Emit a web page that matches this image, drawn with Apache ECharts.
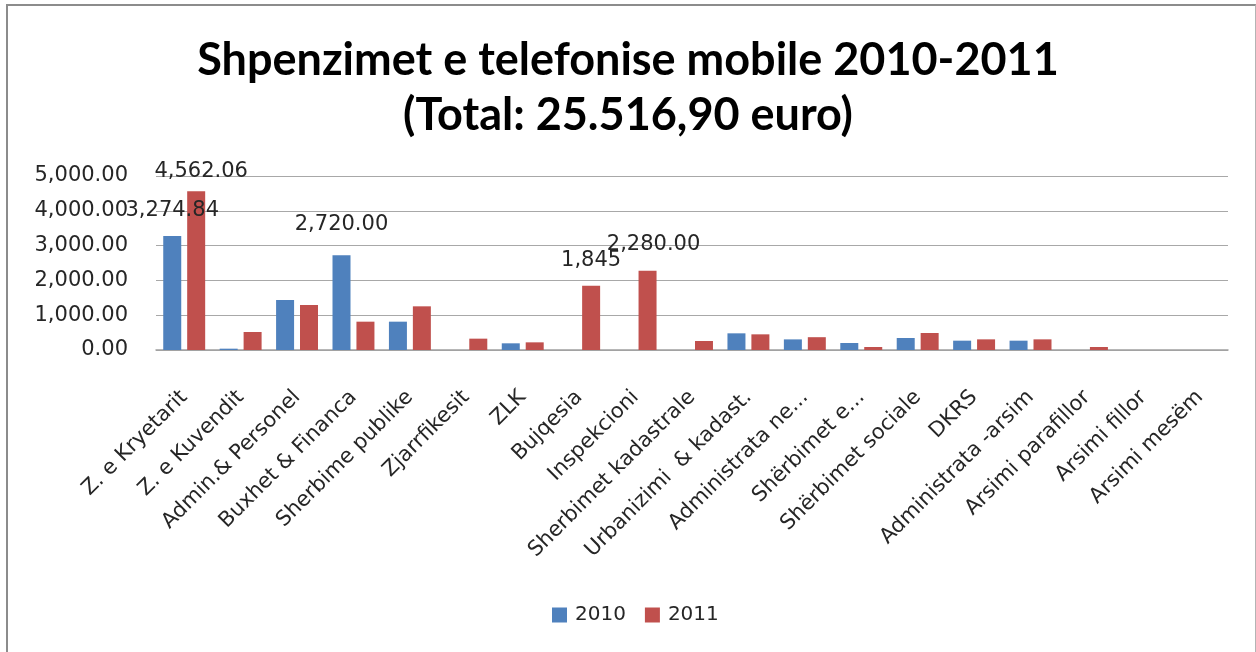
<!DOCTYPE html>
<html><head><meta charset="utf-8">
<script src="https://cdn.jsdelivr.net/npm/echarts@6/dist/echarts.min.js"></script>
<style>
html,body{margin:0;padding:0;background:#fff;}
#c{position:absolute;left:0;top:0;width:1256px;height:652px;}
#f{position:absolute;left:6px;top:4px;width:1250px;height:660px;box-sizing:border-box;border-top:2px solid #8c8c8c;border-left:2px solid #8c8c8c;border-right:1px solid #b4b4b4;pointer-events:none;}
</style>
</head><body><div id="c"></div><div id="f"></div>
<script>
const titleText = 'Shpenzimet e telefonise mobile 2010-2011\n(Total: 25.516,90 euro)';
const categories = ['Z. e Kryetarit', 'Z. e Kuvendit', 'Admin.& Personel', 'Buxhet & Financa', 'Sherbime publike', 'Zjarrfikesit', 'ZLK', 'Bujqesia', 'Inspekcioni', 'Sherbimet kadastrale', 'Urbanizimi  & kadast.', 'Administrata ne...', 'Shërbimet e...', 'Shërbimet sociale', 'DKRS', 'Administrata -arsim', 'Arsimi parafillor', 'Arsimi fillor', 'Arsimi mesëm'];
const seriesNames = ['2010', '2011'];
const values2010 = [3274.84, 38, 1437, 2720, 814, null, 192, null, null, null, 479, 305, 201, 345, 268, 268, null, null, null];
const values2011 = [4562.06, 517, 1293, 814, 1255, 326, 220, 1845, 2280, 259, 450, 368, 86, 489, 306, 306, 86, null, null];
const labels2010 = ['3,274.84', '', '', '2,720.00', '', '', '', '', '', '', '', '', '', '', '', '', '', '', ''];
const labels2011 = ['4,562.06', '', '', '', '', '', '', '1,845', '2,280.00', '', '', '', '', '', '', '', '', '', ''];
const yTicks = [0, 1000, 2000, 3000, 4000, 5000];

// styling (label nudges, not data)
const labelNudge2010 = {0: [0, -10], 3: [0, -15]};
const labelNudge2011 = {0: [5, -4], 7: [0, -10], 8: [6, -11]};

const FONT = 'DejaVu Sans';
function buildData(vals, labels, nudge) {
  return vals.map((v, i) => {
    const item = {value: v};
    if (labels[i]) {
      item.label = {show: true, position: 'top', formatter: labels[i], offset: nudge[i] || [0, 0],
        fontFamily: FONT, fontSize: 21, color: '#262626'};
    }
    return item;
  });
}

const chart = echarts.init(document.getElementById('c'), null, {renderer: 'canvas'});
chart.setOption({
  animation: false,
  backgroundColor: '#ffffff',
  title: {
    text: titleText, left: 'center', top: 28,
    textStyle: {fontFamily: 'Lato', fontWeight: 'bold', fontSize: 45, lineHeight: 55, color: '#000'}
  },
  legend: {
    data: seriesNames, left: 547, top: 600, itemWidth: 15, itemHeight: 15, itemGap: 19,
    icon: 'rect',
    textStyle: {fontFamily: FONT, fontSize: 20, color: '#262626', padding: [0, 0, 0, 3]}
  },
  grid: {left: 156, right: 28, top: 176, bottom: 302, containLabel: false},
  xAxis: {
    type: 'category', data: categories,
    axisLine: {lineStyle: {color: '#a0a0a0', width: 1.5}},
    axisTick: {show: false},
    axisLabel: {interval: 0, rotate: 45, margin: 44, fontFamily: FONT, fontSize: 21, color: '#262626'}
  },
  yAxis: {
    type: 'value', min: yTicks[0], max: yTicks[yTicks.length - 1], interval: 1000,
    axisLine: {show: false}, axisTick: {show: false},
    splitLine: {lineStyle: {color: '#a8a8a8', width: 1.2}},
    axisLabel: {margin: 28, fontFamily: FONT, fontSize: 21, color: '#262626',
      formatter: v => v.toLocaleString('en-US', {minimumFractionDigits: 2, maximumFractionDigits: 2})}
  },
  series: [
    {name: seriesNames[0], type: 'bar', barWidth: 18, barGap: '33%', itemStyle: {color: '#4F81BD'},
     data: buildData(values2010, labels2010, labelNudge2010)},
    {name: seriesNames[1], type: 'bar', barWidth: 18, itemStyle: {color: '#C0504D'},
     data: buildData(values2011, labels2011, labelNudge2011)}
  ]
});
</script></body></html>
